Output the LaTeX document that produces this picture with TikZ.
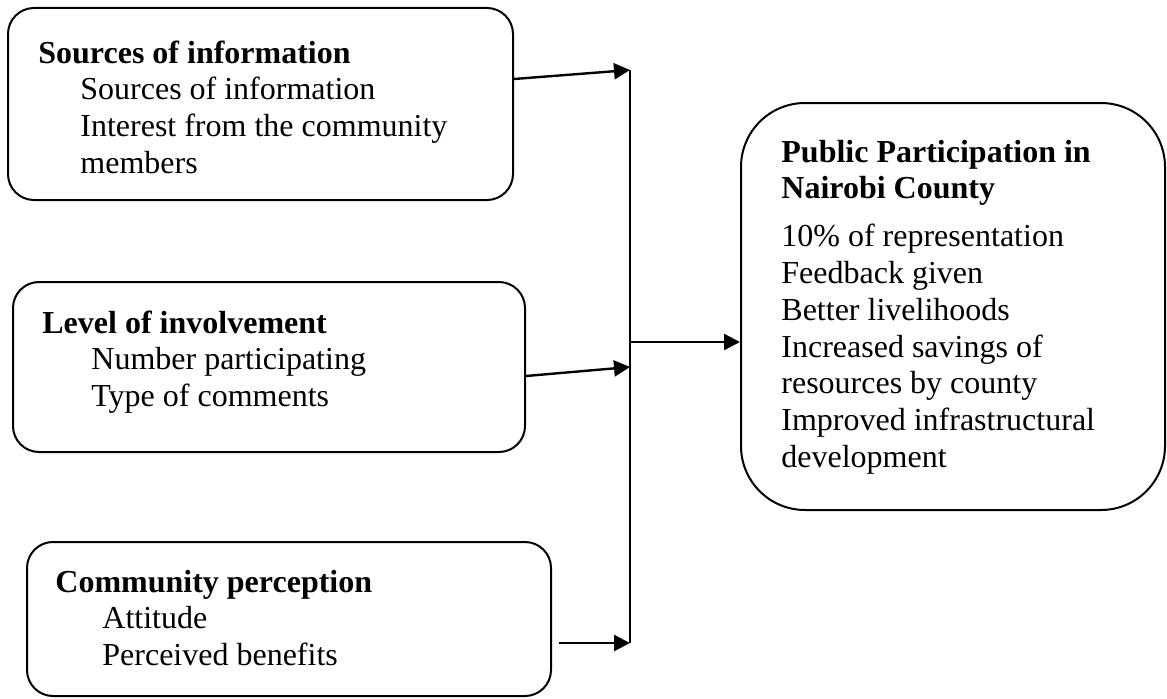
\documentclass[tikz,border=0pt]{standalone}
\usepackage{fontspec}
\setmainfont{Liberation Serif}
\usetikzlibrary{arrows.meta,calc}
\begin{document}
\begin{tikzpicture}[x=0.5pt,y=0.5pt,
  box/.style={draw,line width=1pt,rounded corners=13pt},
  txt/.style={anchor=north west,inner sep=0pt,align=left,font=\fontsize{16}{18.4}\selectfont},
  arr/.style={line width=1.2pt,-{Triangle[length=8pt,width=8pt]}}]
  \useasboundingbox (0,0) rectangle (1167,698);
  \node[box,minimum width=252.5pt,minimum height=96pt] (src) at (260.5,594) {};
  \node[box,minimum width=256pt,minimum height=85pt] (lvl) at (269,331) {};
  \node[box,minimum width=262pt,minimum height=77pt] (perc) at (289,79) {};
  \node[box,rounded corners=32pt,minimum width=212pt,minimum height=203.5pt] (pub) at (953,391.5) {};
  \node[txt] (srcText) at (38,661) {\strut\textbf{Sources of information}\\
    \hspace*{21pt}Sources of information\\
    \hspace*{21pt}Interest from the community\\
    \hspace*{21pt}members};
  \node[txt] (lvlText) at (42,391) {\strut\textbf{Level of involvement}\\
    \hspace*{24.5pt}Number participating\\
    \hspace*{24.5pt}Type of comments};
  \node[txt] (percText) at (55,132) {\strut\textbf{Community perception}\\
    \hspace*{23.5pt}Attitude\\
    \hspace*{23.5pt}Perceived benefits};
  \node[txt] (pubText) at (781,562) {\strut\textbf{Public Participation in}\\
    \textbf{Nairobi County}\\[5.5pt]
    10\% of representation\\
    Feedback given\\
    Better livelihoods\\
    Increased savings of\\
    resources by county\\
    Improved infrastructural\\
    development};
  \coordinate (jtop) at (630,628);
  \coordinate (jbot) at (630,55);
  \coordinate (jmid) at (630,356);
  \draw[line width=1.1pt] (jtop) -- (jbot);
  \draw[arr] ($(src.east)+(0,25)$) -- (jtop);
  \draw[arr] ($(lvl.east)+(0,-9)$) -- (jtop |- lvl.east);
  \draw[arr] ($(perc.east)+(7,-24)$) -- (jbot);
  \draw[arr] (jmid) -- (pub.west |- jmid);
\end{tikzpicture}
\end{document}
